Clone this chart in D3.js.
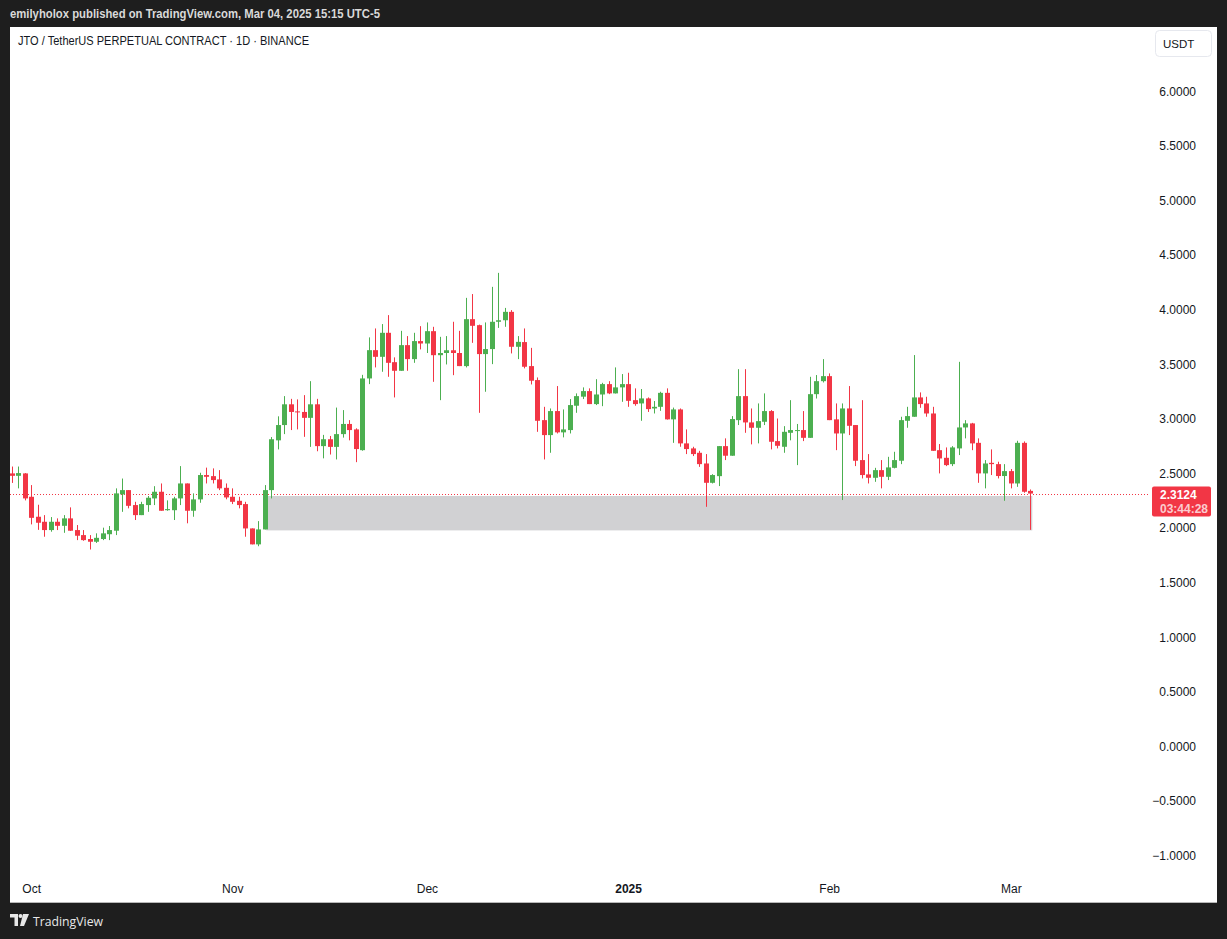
<!DOCTYPE html>
<html>
<head>
<meta charset="utf-8">
<script src="https://cdn.jsdelivr.net/npm/d3@7/dist/d3.min.js"></script>
<style>
html,body{margin:0;padding:0;background:#1e1e1e;}
svg{display:block;}
text{font-family:"Liberation Sans",Arial,sans-serif;}
</style>
</head>
<body>
<svg id="chart" width="1227" height="939"></svg>
<script>
// ---- DATA ----
const startDate = "2024-09-28";
const endDate = "2025-03-04";
const open  = [2.497,2.475,2.497,2.283,2.10,2.054,1.978,2.054,2.017,2.085,1.978,1.932,1.896,1.871,1.896,1.94,1.972,2.305,2.344,2.207,2.115,2.207,2.268,2.329,2.16,2.16,2.268,2.405,2.155,2.259,2.482,2.472,2.442,2.365,2.283,2.246,2.216,1.993,1.847,1.984,2.344,2.80,2.94,3.13,3.065,3.06,3.006,3.13,2.747,2.81,2.74,2.857,2.95,2.90,2.71,3.367,3.626,3.565,3.785,3.516,3.437,3.672,3.544,3.709,3.687,3.80,3.58,3.60,3.625,3.60,3.48,3.91,3.855,3.59,3.636,3.886,3.90,3.977,3.657,3.70,3.48,3.352,2.985,2.848,3.068,2.873,2.894,3.117,3.20,3.251,3.132,3.22,3.315,3.23,3.285,3.315,3.168,3.138,3.184,3.092,3.107,3.235,2.992,3.083,2.772,2.726,2.686,2.588,2.411,2.472,2.747,2.659,2.985,3.205,2.964,2.915,2.97,3.068,2.793,2.741,2.869,2.885,2.894,2.823,3.223,3.342,3.388,2.992,2.863,3.092,2.94,2.619,2.488,2.457,2.527,2.466,2.548,2.613,2.979,3.016,3.193,3.138,3.046,2.71,2.64,2.582,2.726,2.918,2.955,2.777,2.497,2.594,2.582,2.473,2.518,2.405,2.777,2.337];
const high  = [2.56,2.56,2.50,2.39,2.21,2.115,2.097,2.085,2.115,2.186,2.024,1.978,1.932,1.948,2.0,2.015,2.36,2.45,2.344,2.237,2.237,2.29,2.38,2.405,2.25,2.283,2.564,2.405,2.314,2.503,2.55,2.543,2.527,2.405,2.36,2.283,2.237,1.993,2.06,2.39,2.83,3.02,3.205,3.18,3.175,3.214,3.342,3.18,2.85,2.84,3.10,3.077,2.985,2.91,3.40,3.743,3.825,3.865,3.947,3.56,3.803,3.755,3.785,3.846,3.88,3.84,3.748,3.755,3.886,3.803,4.105,4.14,3.86,3.88,4.206,4.334,4.013,3.993,3.755,3.825,3.647,3.376,3.107,3.092,3.297,3.083,3.178,3.23,3.285,3.276,3.36,3.327,3.342,3.468,3.407,3.419,3.276,3.27,3.193,3.16,3.245,3.276,3.10,3.092,2.90,2.741,2.704,2.674,2.49,2.747,2.818,3.022,3.452,3.452,3.092,3.138,3.23,3.077,3.0,2.93,3.168,2.95,3.068,3.382,3.398,3.544,3.413,3.138,3.138,3.297,2.94,3.168,2.674,2.548,2.619,2.649,2.695,3.016,3.107,3.581,3.239,3.199,3.107,2.766,2.735,2.747,3.519,2.985,2.96,2.818,2.619,2.717,2.604,2.582,2.537,2.796,2.79,2.35];
const low   = [2.41,2.36,2.25,2.03,1.98,1.917,1.963,1.978,1.953,1.97,1.886,1.88,1.80,1.86,1.886,1.886,1.932,2.145,2.177,2.07,2.115,2.145,2.207,2.155,2.155,2.07,2.207,2.04,2.10,2.228,2.405,2.405,2.344,2.26,2.216,2.177,1.917,1.847,1.83,1.984,2.268,2.717,2.857,2.894,2.90,2.832,2.74,2.70,2.635,2.67,2.625,2.825,2.80,2.60,2.705,3.315,3.468,3.428,3.382,3.193,3.437,3.437,3.51,3.633,3.60,3.336,3.168,3.495,3.397,3.48,3.468,3.693,3.052,3.245,3.498,3.83,3.84,3.596,3.544,3.459,3.312,2.878,2.625,2.686,2.863,2.827,2.863,3.052,3.178,3.132,3.123,3.113,3.223,3.229,3.153,3.107,3.117,2.979,3.06,3.046,3.07,2.99,2.777,2.741,2.674,2.656,2.557,2.191,2.405,2.381,2.619,2.659,2.94,2.869,2.763,2.772,2.94,2.717,2.726,2.686,2.80,2.573,2.793,2.823,3.183,3.33,2.985,2.71,2.253,2.848,2.564,2.451,2.405,2.42,2.36,2.436,2.543,2.582,2.915,3.016,3.098,3.016,2.704,2.497,2.564,2.564,2.665,2.818,2.71,2.411,2.36,2.482,2.451,2.246,2.36,2.374,2.32,1.98];
const close = [2.475,2.50,2.268,2.09,2.045,1.978,2.054,2.017,2.085,1.972,1.926,1.886,1.871,1.907,1.948,1.978,2.314,2.344,2.20,2.115,2.216,2.274,2.329,2.155,2.17,2.268,2.405,2.155,2.259,2.482,2.466,2.436,2.36,2.277,2.237,2.207,1.993,1.847,1.984,2.344,2.81,2.94,3.13,3.06,3.06,3.006,3.13,2.747,2.81,2.74,2.857,2.95,2.894,2.72,3.367,3.626,3.565,3.785,3.51,3.437,3.672,3.544,3.709,3.687,3.80,3.58,3.60,3.625,3.60,3.48,3.91,3.849,3.59,3.636,3.886,3.90,3.977,3.657,3.702,3.474,3.346,2.979,2.848,3.068,2.873,2.90,3.123,3.205,3.251,3.132,3.22,3.315,3.23,3.285,3.315,3.162,3.132,3.184,3.086,3.107,3.235,2.992,3.083,2.772,2.72,2.674,2.582,2.411,2.482,2.747,2.659,2.995,3.205,2.964,2.915,2.976,3.068,2.787,2.75,2.878,2.894,2.894,2.823,3.223,3.342,3.388,2.985,2.863,3.092,2.933,2.613,2.482,2.457,2.527,2.466,2.552,2.619,2.985,3.022,3.193,3.132,3.046,2.704,2.634,2.573,2.735,2.918,2.955,2.772,2.497,2.588,2.582,2.473,2.518,2.405,2.777,2.329,2.3124];
const priceTicks = [-1,-0.5,0,0.5,1,1.5,2,2.5,3,3.5,4,4.5,5,5.5,6];
const monthTicks = ["2024-10-01","2024-11-01","2024-12-01","2025-01-01","2025-02-01","2025-03-01"];
const monthLabels = ["Oct","Nov","Dec","2025","Feb","Mar"];
const zoneTop = 2.29, zoneBottom = 1.975, zoneStart = "2024-11-06";
const lastPrice = 2.3124, countdown = "03:44:28";
const titleText = "JTO / TetherUS PERPETUAL CONTRACT · 1D · BINANCE";
const headerText = "emilyholox published on TradingView.com, Mar 04, 2025 15:15 UTC-5";

// ---- DRAW ----
const parse = d3.utcParse("%Y-%m-%d");
const dates = d3.utcDay.range(parse(startDate), d3.utcDay.offset(parse(endDate), 1));
const bars = dates.map((d, i) => ({d, o: open[i], h: high[i], l: low[i], c: close[i]}));

const UP = "#4caf50", DOWN = "#f23645";
const svg = d3.select("#chart");

// frame
svg.append("rect").attr("x", 0).attr("y", 0).attr("width", 1227).attr("height", 939).attr("fill", "#1e1e1e");
svg.append("text").attr("x", 10).attr("y", 18).attr("fill", "#d9d9d9")
  .style("font-size", "12.5px").style("font-weight", "600")
  .attr("textLength", 370).attr("lengthAdjust", "spacingAndGlyphs")
  .text(headerText);
svg.append("rect").attr("x", 10).attr("y", 27).attr("width", 1207).attr("height", 876).attr("fill", "#ffffff");
svg.append("line").attr("x1", 10).attr("x2", 1217).attr("y1", 902.5).attr("y2", 902.5).attr("stroke", "#b8b8b8");

const x = d3.scaleUtc().domain([parse(startDate), parse(endDate)]).range([11.7, 1030.3]);
const y = d3.scaleLinear().domain([0, 6]).range([746, 91]);

const plot = svg.append("g");
svg.append("clipPath").attr("id", "plotclip").append("rect")
  .attr("x", 10).attr("y", 27).attr("width", 1140).attr("height", 850);
plot.attr("clip-path", "url(#plotclip)");

// zone rectangle
plot.append("rect")
  .attr("x", x(parse(zoneStart)) + 1.5)
  .attr("y", y(zoneTop))
  .attr("width", x(parse(endDate)) + 2 - (x(parse(zoneStart)) + 1.5))
  .attr("height", y(zoneBottom) - y(zoneTop))
  .attr("fill", "#d1d1d3");

// last price dotted line
plot.append("line").attr("x1", 10).attr("x2", 1152)
  .attr("y1", Math.round(y(lastPrice)) + 0.5).attr("y2", Math.round(y(lastPrice)) + 0.5)
  .attr("stroke", DOWN).attr("stroke-width", 1).attr("stroke-dasharray", "1,2");

// candles
const bw = 5;
const g = plot.selectAll("g.bar").data(bars).join("g").attr("class", "bar");
g.append("line")
  .attr("x1", d => Math.round(x(d.d)) + 0.5).attr("x2", d => Math.round(x(d.d)) + 0.5)
  .attr("y1", d => y(d.h)).attr("y2", d => y(d.l))
  .attr("stroke", d => d.c >= d.o ? UP : DOWN).attr("stroke-width", 1);
g.append("rect")
  .attr("x", d => Math.round(x(d.d)) + 0.5 - bw / 2)
  .attr("width", bw)
  .attr("y", d => y(Math.max(d.o, d.c)))
  .attr("height", d => Math.max(1, y(Math.min(d.o, d.c)) - y(Math.max(d.o, d.c))))
  .attr("fill", d => d.c >= d.o ? UP : DOWN);

// price axis
const fmt = d3.format(".4f");
const yAxis = d3.axisRight(y).tickValues(priceTicks).tickSize(0).tickPadding(0)
  .tickFormat(v => fmt(v));
const ya = svg.append("g").attr("transform", "translate(1196,0)").call(yAxis);
ya.select(".domain").remove();
ya.selectAll("text").attr("text-anchor", "end").attr("fill", "#131722")
  .style("font-size", "12px").attr("dy", "0.35em").attr("x", 0);

// USDT button
svg.append("rect").attr("x", 1155.5).attr("y", 30.5).attr("width", 56).attr("height", 26)
  .attr("rx", 4).attr("fill", "#fff").attr("stroke", "#e6e8ee");
svg.append("text").attr("x", 1163).attr("y", 48).attr("fill", "#131722")
  .style("font-size", "11.5px").text("USDT");

// last price label
svg.append("rect").attr("x", 1152).attr("y", 486.5).attr("width", 59).attr("height", 30)
  .attr("rx", 2).attr("fill", DOWN);
svg.append("text").attr("x", 1160).attr("y", 498.5).attr("fill", "#ffffff")
  .style("font-size", "12px").style("font-weight", "bold").text(fmt(lastPrice));
svg.append("text").attr("x", 1160).attr("y", 513).attr("fill", "#ffffff").attr("fill-opacity", 0.75)
  .style("font-size", "12px").style("font-weight", "bold").text(countdown);

// time axis
const xAxis = d3.axisBottom(x).tickValues(monthTicks.map(parse)).tickSize(0).tickPadding(0)
  .tickFormat((d, i) => monthLabels[i]);
const xa = svg.append("g").attr("transform", "translate(0,889)").call(xAxis);
xa.select(".domain").remove();
xa.selectAll("text").attr("fill", "#131722").style("font-size", "12px").attr("dy", "0.35em")
  .style("font-weight", (d, i) => monthLabels[i] === "2025" ? "bold" : "normal");

// title
svg.append("text").attr("x", 18).attr("y", 45).attr("fill", "#131722")
  .style("font-size", "12px").attr("textLength", 291).attr("lengthAdjust", "spacingAndGlyphs")
  .text(titleText);

// footer logo
const logo = svg.append("g").attr("transform", "translate(10,914)").attr("fill", "#e8e8e8");
logo.append("path").attr("d", "M0,0 H8 V12 H4.5 V3.5 H0 Z");
logo.append("circle").attr("cx", 10.5).attr("cy", 2).attr("r", 2);
logo.append("path").attr("d", "M13,0 H19 L14,12 H10 Z");
svg.append("text").attr("x", 33).attr("y", 926).attr("fill", "#e8e8e8")
  .style("font-size", "13.5px").style("font-family", "'Open Sans',sans-serif")
  .attr("textLength", 70).attr("lengthAdjust", "spacingAndGlyphs").text("TradingView");
</script>
</body>
</html>
